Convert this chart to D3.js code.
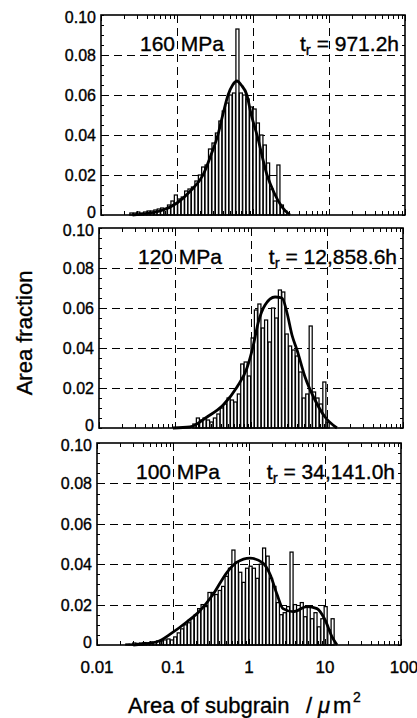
<!DOCTYPE html>
<html>
<head>
<meta charset="utf-8">
<script src="https://cdn.jsdelivr.net/npm/d3@7.9.0/dist/d3.min.js"></script>
<style>
  html, body { margin: 0; padding: 0; background: #fff; }
  svg { display: block; font-family: "Liberation Sans", Arial, Helvetica, sans-serif; }
  text { fill: #000; stroke: #000; stroke-width: 0.35px; }
</style>
</head>
<body>
<svg id="chart" width="417" height="718"></svg>
<script>
// bin centres (area of subgrain, um^2), shared by the three histograms
const binArea = [
  0.0251, 0.0279, 0.0309, 0.0343, 0.0380, 0.0422, 0.0468, 0.0519, 0.0575, 0.0638,
  0.0708, 0.0785, 0.0871, 0.0966, 0.107, 0.119, 0.132, 0.146, 0.162, 0.180,
  0.200, 0.221, 0.245, 0.272, 0.302, 0.335, 0.372, 0.412, 0.457, 0.507,
  0.562, 0.624, 0.692, 0.767, 0.851, 0.944, 1.05, 1.16, 1.29, 1.43,
  1.58, 1.76, 1.95, 2.16, 2.40, 2.66, 2.95, 3.27, 3.63, 4.03,
  4.47, 4.95, 5.50, 6.10, 6.76, 7.50, 8.32, 9.23, 10.2, 11.4,
  12.6, 14.0
];

// area fraction per bin
const frac160 = [
  0.001, 0.001, 0.0015, 0.001, 0.0015, 0.002, 0.002, 0.0025, 0.003, 0.0035,
  0.003, 0.005, 0.007, 0.010, 0.008, 0.009, 0.012, 0.013, 0.014, 0.017,
  0.020, 0.024, 0.025, 0.033, 0.036, 0.041, 0.047, 0.052, 0.056, 0.060,
  0.061, 0.093, 0.061, 0.060, 0.058, 0.054, 0.053, 0.046, 0.040, 0.035,
  0.026, 0.013, 0.007, 0.025, 0.005, 0.002, 0, 0, 0, 0,
  0, 0, 0, 0, 0, 0, 0, 0, 0, 0,
  0, 0
];
const frac120 = [
  0, 0, 0, 0, 0, 0, 0, 0, 0, 0,
  0, 0, 0, 0, 0, 0, 0, 0, 0, 0.002,
  0.005, 0.004, 0.005, 0.004, 0.003, 0.005, 0.007, 0.010, 0.012, 0.015,
  0.014, 0.013, 0.017, 0.032, 0.033, 0.026, 0.045, 0.059, 0.062, 0.050,
  0.054, 0.043, 0.060, 0.055, 0.069, 0.068, 0.047, 0.041, 0.039, 0.036,
  0.028, 0.015, 0.017, 0.051, 0.018, 0.015, 0.012, 0.023, 0.003, 0,
  0, 0
];
const frac100 = [
  0.0005, 0.0005, 0.001, 0.0008, 0.001, 0.0012, 0.001, 0.0015, 0.0012, 0.002,
  0.002, 0.0025, 0.003, 0.0025, 0.004, 0.006, 0.008, 0.010, 0.011, 0.013,
  0.015, 0.018, 0.020, 0.019, 0.026, 0.026, 0.025, 0.027, 0.029, 0.034,
  0.038, 0.047, 0.041, 0.036, 0.031, 0.038, 0.039, 0.038, 0.033, 0.040,
  0.048, 0.044, 0.033, 0.029, 0.021, 0.015, 0.016, 0.019, 0.046, 0.020,
  0.017, 0.021, 0.014, 0.019, 0.013, 0.016, 0.009, 0.013, 0.019, 0.0075,
  0.013, 0
];

// fitted curves [area, fraction]
const fit160 = [[0.026, 0], [0.06, 0.002], [0.1, 0.006], [0.15, 0.012], [0.22, 0.02],
  [0.28, 0.03], [0.345, 0.04], [0.4, 0.05], [0.47, 0.06], [0.54, 0.065], [0.615, 0.067],
  [0.7, 0.065], [0.83, 0.06], [0.95, 0.05], [1.13, 0.04], [1.53, 0.02], [1.9, 0.011],
  [2.41, 0.004], [3.07, 0]];
const fit120 = [[0.094, 0], [0.157, 0.0005], [0.264, 0.0055], [0.43, 0.0115], [0.655, 0.0205],
  [0.885, 0.03], [1.06, 0.0405], [1.24, 0.0525], [1.53, 0.0615], [2.07, 0.0655], [2.56, 0.065],
  [2.98, 0.0575], [3.46, 0.0465], [4.03, 0.039], [5.14, 0.0255], [6.95, 0.014], [9.42, 0.0055],
  [13.5, 0]];
const fit100 = [[0.03, 0], [0.0615, 0.0016], [0.097, 0.006], [0.153, 0.0115], [0.226, 0.017],
  [0.336, 0.025], [0.514, 0.036], [0.695, 0.041], [1.03, 0.043], [1.53, 0.0405], [1.89, 0.035],
  [2.34, 0.025], [2.8, 0.018], [3.79, 0.0165], [5.8, 0.019], [7.85, 0.018], [10, 0.0125],
  [12.4, 0.004], [14.4, 0]];

const stressLabels = ["160 MPa", "120 MPa", "100 MPa"];
const ruptureTimes = ["971.2h", "12,858.6h", "34,141.0h"];

const yTicks = [0, 0.02, 0.04, 0.06, 0.08, 0.10];
const yTickLabels = ["0", "0.02", "0.04", "0.06", "0.08", "0.10"];
const xTicks = [0.01, 0.1, 1, 10, 100];
const xTickLabels = ["0.01", "0.1", "1", "10", "100"];

// layout (the scan is slightly skewed, so each panel has its own left edge)
const panelBoxes = [
  { top: 15, left: 101, height: 200 },
  { top: 228, left: 99, height: 200 },
  { top: 443, left: 97, height: 202 }
];
const panelWidth = 304;
const halfBar = Math.pow(10, 0.02);

const svg = d3.select("#chart");

const panels = [
  { frac: frac160, fit: fit160 },
  { frac: frac120, fit: fit120 },
  { frac: frac100, fit: fit100 }
];

// snap thin lines onto pixel centres so they stay black
const px = (v) => Math.round(v) + 0.5;

panels.forEach((p, k) => {
  const box = panelBoxes[k];
  const x = d3.scaleLog().domain([0.01, 100]).range([box.left, box.left + panelWidth]);
  const y = d3.scaleLinear().domain([0, 0.1]).range([box.top + box.height, box.top]);
  const g = svg.append("g");

  // dashed grid
  g.selectAll("line.hgrid")
    .data(yTicks.slice(1, -1))
    .join("line")
    .attr("x1", x.range()[0]).attr("x2", x.range()[1])
    .attr("y1", (d) => px(y(d))).attr("y2", (d) => px(y(d)))
    .attr("stroke", "#000").attr("stroke-width", 1)
    .attr("stroke-dasharray", "8,5");
  g.selectAll("line.vgrid")
    .data(xTicks.slice(1, -1))
    .join("line")
    .attr("x1", (d) => px(x(d))).attr("x2", (d) => px(x(d)))
    .attr("y1", y(0.1)).attr("y2", y(0))
    .attr("stroke", "#000").attr("stroke-width", 1)
    .attr("stroke-dasharray", "8,5");

  // label text (grid shows through gaps, as in the original)
  g.append("text")
    .attr("x", box.left + 39)
    .attr("y", box.top + 36)
    .attr("font-size", 21)
    .text(stressLabels[k]);

  const tr = g.append("text")
    .attr("x", box.left + panelWidth - 6)
    .attr("y", box.top + 36)
    .attr("font-size", 21)
    .attr("text-anchor", "end");
  tr.append("tspan").text("t");
  tr.append("tspan").attr("font-size", 15).attr("dy", 4).text("r");
  tr.append("tspan").attr("dy", -4).text(" = " + ruptureTimes[k]);

  // histogram bars
  const bars = binArea.map((a, i) => ({ a: a, f: p.frac[i] })).filter((d) => d.f > 0);
  g.selectAll("rect.bar")
    .data(bars)
    .join("rect")
    .attr("x", (d) => x(d.a / halfBar))
    .attr("width", (d) => x(d.a * halfBar) - x(d.a / halfBar))
    .attr("y", (d) => y(d.f))
    .attr("height", (d) => y(0) - y(d.f))
    .attr("fill", "#fff")
    .attr("stroke", "#000")
    .attr("stroke-width", 1.25);

  // fitted curve
  const line = d3.line()
    .x((d) => x(d[0]))
    .y((d) => y(d[1]))
    .curve(d3.curveMonotoneX);
  g.append("path")
    .datum(p.fit)
    .attr("d", line)
    .attr("fill", "none")
    .attr("stroke", "#000")
    .attr("stroke-width", 2.8);

  // frame
  g.append("rect")
    .attr("x", box.left).attr("y", box.top)
    .attr("width", panelWidth).attr("height", box.height)
    .attr("fill", "none").attr("stroke", "#000").attr("stroke-width", 1.6);

  // minor ticks, pointing inward
  x.ticks().forEach((t) => {
    const len = xTicks.includes(t) ? 6 : 4;
    const xx = px(x(t));
    g.append("line")
      .attr("x1", xx).attr("x2", xx)
      .attr("y1", y(0)).attr("y2", y(0) - len)
      .attr("stroke", "#000").attr("stroke-width", 1);
    g.append("line")
      .attr("x1", xx).attr("x2", xx)
      .attr("y1", y(0.1)).attr("y2", y(0.1) + len)
      .attr("stroke", "#000").attr("stroke-width", 1);
  });
  y.ticks(20).forEach((t) => {
    const yy = px(y(t));
    g.append("line")
      .attr("x1", box.left).attr("x2", box.left + 3)
      .attr("y1", yy).attr("y2", yy)
      .attr("stroke", "#000").attr("stroke-width", 1);
    g.append("line")
      .attr("x1", box.left + panelWidth).attr("x2", box.left + panelWidth - 3)
      .attr("y1", yy).attr("y2", yy)
      .attr("stroke", "#000").attr("stroke-width", 1);
  });

  // y tick labels
  g.selectAll("text.ylab")
    .data(yTicks)
    .join("text")
    .attr("x", box.left - 5)
    .attr("y", (d) => y(d) + (d === 0 ? 3 : d === 0.1 ? 8 : 6))
    .attr("text-anchor", "end")
    .attr("font-size", 16)
    .text((d, i) => yTickLabels[i]);

  // x tick labels under the bottom panel only
  if (k === panels.length - 1) {
    g.selectAll("text.xlab")
      .data(xTicks)
      .join("text")
      .attr("x", (d) => x(d) + (d === 100 ? 3 : 0))
      .attr("y", y(0) + 28)
      .attr("text-anchor", "middle")
      .attr("font-size", 17)
      .text((d, i) => xTickLabels[i]);
  }
});

// axis titles
svg.append("text")
  .attr("transform", "translate(32,333) rotate(-90)")
  .attr("text-anchor", "middle")
  .attr("font-size", 22)
  .text("Area fraction");

const xt = svg.append("text")
  .attr("y", 713)
  .attr("font-size", 22);
xt.append("tspan").attr("x", 128).text("Area of subgrain");
xt.append("tspan").attr("x", 306).text("/");
xt.append("tspan").attr("x", 318).attr("font-style", "italic").text("\u03bc");
xt.append("tspan").attr("x", 333).text("m");
xt.append("tspan").attr("x", 353).attr("dy", -11).attr("font-size", 14).text("2");
</script>
</body>
</html>
